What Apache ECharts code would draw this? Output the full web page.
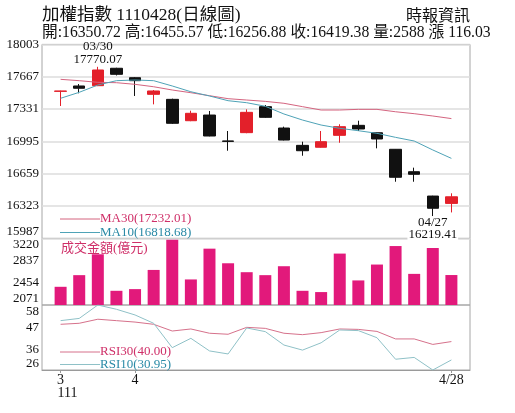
<!DOCTYPE html>
<html><head><meta charset="utf-8">
<script src="https://cdn.jsdelivr.net/npm/echarts@6/dist/echarts.min.js"></script>
<style>html,body{margin:0;padding:0;background:#fff}#c{width:515px;height:413px}</style>
</head><body><div id="c"></div>
<script>
// ---- data ----
const dates = ['3/28','3/29','3/30','3/31','4/1','4/6','4/7','4/8','4/11','4/12','4/13','4/14','4/15','4/18','4/19','4/20','4/21','4/22','4/25','4/26','4/27','4/28'];
const openP  = [17515,17571,17574,17755,17657,17484,17432,17210,17269,17000,17086,17356,17134,16954,16934,17058,17162,17085,16913,16680,16427,16350.72];
const closeP = [17519,17547,17737,17692,17626,17519,17183,17287,17051,16995,17297,17245,17009,16898,16992,17148,17124,17020,16622,16653,16300,16419.38];
const lowP   = [17363,17495,17570,17680,17467,17380,17176,17205,17048,16898,17080,17240,17005,16846,16930,16981,17103,16923,16576,16576,16219.41,16256.88];
const highP  = [17522,17591,17770.07,17760,17664,17529,17439,17314,17311,17103,17328,17373,17148,16992,17103,17173,17210,17088,16915,16722,16430,16455.57];
const volume = [2385,2586,2946,2316,2345,2676,3198,2512,3043,2791,2637,2586,2740,2316,2294,2958,2495,2769,3088,2608,3054,2588];
const ma30   = [17640,17626,17609,17605,17588,17563,17529,17501,17470,17439,17425,17411,17391,17356,17321,17321,17328,17328,17303,17283,17259,17232.01];
const ma10   = [17443,17505,17581,17626,17633,17626,17571,17511,17467,17418,17397,17360,17280,17217,17165,17131,17106,17079,17037,16999,16906,16818.68];
const rsi30  = [48.5,49.0,51.0,50.3,49.6,48.5,45.2,46.2,44.1,43.6,47.0,46.5,44.1,43.4,44.4,46.2,46.0,45.0,41.3,41.3,38.6,40.00];
const rsi10  = [50.3,51.4,58.0,55.9,53.1,49.0,37.0,41.6,35.4,33.9,46.7,44.9,38.3,35.8,39.4,45.7,45.4,41.9,31.3,32.2,26.0,30.95];
const priceTicks = [15987,16323,16659,16995,17331,17667,18003];
const volTicks = [2071,2454,2837,3220];
const rsiTicks = [26,36,47,58];
const xMonthLabels = {'3/28':'3','4/1':'4','4/28':'4/28'};
const yearLabel = '111';
const titleText = '加權指數 1110428(日線圖)';
const sourceText = '時報資訊';
const quoteText = '開:16350.72 高:16455.57 低:16256.88 收:16419.38 量:2588 漲 116.03';
const hiDate = '03/30', hiVal = 17770.07, hiIdx = 2;
const loDate = '04/27', loVal = 16219.41, loIdx = 20;
const volTitle = '成交金額(億元)';

// ---- build ----
const FF = '"Liberation Serif","Noto Sans CJK TC",serif';
const cats = [''].concat(dates, ['']);
const pad = a => ['-'].concat(a, ['-']);
const candle = [['-','-','-','-']].concat(dates.map((d,i)=>[openP[i],closeP[i],lowP[i],highP[i]]), [['-','-','-','-']]);

const chart = echarts.init(document.getElementById('c'), null, {renderer:'canvas'});
const gridBase = {left:42, width:428, show:true, borderColor:'#a6a6a6', borderWidth:1, backgroundColor:'transparent'};
const lblBase = {fontFamily:FF, fontSize:13, color:'#111', margin:3, formatter:(v)=>String(Math.round(v))};
function xAx(i, showLbl){
  return {type:'category', gridIndex:i, data:cats, boundaryGap:false,
    axisLine:{show:showLbl, lineStyle:{color:'#9a9a9a'}},
    axisTick:{show:showLbl, length:3, lineStyle:{color:'#9a9a9a'}},
    splitLine:{show:false},
    axisLabel: showLbl ? {show:true, fontFamily:FF, fontSize:14, color:'#111', margin:3,
      interval:(idx,val)=>xMonthLabels[val]!==undefined,
      formatter:(val)=>xMonthLabels[val]||''} : {show:false}};
}
const option = {
  animation:false,
  backgroundColor:'#fff',
  grid:[Object.assign({top:44.4, height:194}, gridBase),
        Object.assign({top:238.4, height:66.6}, gridBase),
        Object.assign({top:305, height:65}, gridBase)],
  xAxis:[xAx(0,false), xAx(1,false), xAx(2,true)],
  yAxis:[
    {type:'value', gridIndex:0, min:priceTicks[0], max:priceTicks[priceTicks.length-1], interval:priceTicks[1]-priceTicks[0],
     axisLine:{show:false}, axisTick:{show:false},
     splitLine:{show:true, lineStyle:{color:'#dcdcdc', width:1.5}},
     axisLabel:Object.assign({verticalAlignMinLabel:'bottom'}, lblBase)},
    {type:'value', gridIndex:1, min:volTicks[0], max:volTicks[volTicks.length-1], interval:volTicks[1]-volTicks[0],
     axisLine:{show:false}, axisTick:{show:false}, splitLine:{show:false},
     axisLabel:Object.assign({verticalAlignMinLabel:'bottom', verticalAlignMaxLabel:'top'}, lblBase)},
    {type:'value', gridIndex:2, min:rsiTicks[0], max:rsiTicks[rsiTicks.length-1],
     axisLine:{show:false}, axisTick:{show:false}, splitLine:{show:false},
     axisLabel:Object.assign({customValues:rsiTicks, verticalAlignMinLabel:'bottom', verticalAlignMaxLabel:'top'}, lblBase)}
  ],
  series:[
    {type:'candlestick', xAxisIndex:0, yAxisIndex:0, data:candle, barWidth:12,
     itemStyle:{color:'#e3202a', color0:'#111', borderColor:'#e3202a', borderColor0:'#111', borderWidth:1}},
    {type:'line', xAxisIndex:0, yAxisIndex:0, data:pad(ma30), symbol:'none', lineStyle:{color:'#d4647f', width:1}, z:3},
    {type:'line', xAxisIndex:0, yAxisIndex:0, data:pad(ma10), symbol:'none', lineStyle:{color:'#4fa3b7', width:1}, z:3},
    {type:'bar', xAxisIndex:1, yAxisIndex:1, data:pad(volume), barWidth:12, itemStyle:{color:'#e2197b'}},
    {type:'line', xAxisIndex:2, yAxisIndex:2, data:pad(rsi30), symbol:'none', lineStyle:{color:'#d6718b', width:1}},
    {type:'line', xAxisIndex:2, yAxisIndex:2, data:pad(rsi10), symbol:'none', lineStyle:{color:'#8fc1c7', width:1}}
  ]
};
chart.setOption(option);

const ph = chart.convertToPixel({xAxisIndex:0, yAxisIndex:0}, [hiIdx+1, hiVal]);
const pl = chart.convertToPixel({xAxisIndex:0, yAxisIndex:0}, [loIdx+1, loVal]);
const p3 = chart.convertToPixel({xAxisIndex:2, yAxisIndex:2}, [1, rsiTicks[0]]);
function txt(x, y, text, size, fill, align, extra){
  return {type:'text', silent:true, z:100, style:Object.assign({x:x, y:y, text:text, font: size+'px '+FF, fill:fill||'#111', align:align||'left', verticalAlign:'middle'}, extra||{})};
}
function ln(x1, x2, y, color){
  return {type:'line', silent:true, z:90, shape:{x1:x1, y1:y, x2:x2, y2:y}, style:{stroke:color, lineWidth:1}};
}
chart.setOption({graphic:[
  txt(42, 15, titleText, 17.5, '#111'),
  txt(470, 17, sourceText, 16, '#111', 'right'),
  txt(42, 33, quoteText, 15.7, '#111'),
  txt(ph[0], ph[1]-20, hiDate, 13, '#111', 'center'),
  txt(ph[0], ph[1]-7.5, hiVal.toFixed(2), 13, '#111', 'center'),
  txt(pl[0], pl[1]+6.5, loDate, 13, '#111', 'center'),
  txt(pl[0], pl[1]+18.5, loVal.toFixed(2), 13, '#111', 'center', {backgroundColor:'#fff', padding:[0,1]}),
  ln(60, 100, 219, '#d4647f'),
  txt(100, 219, 'MA30(' + ma30[ma30.length-1].toFixed(2) + ')', 13, '#cf2f68'),
  ln(60, 100, 232.5, '#4fa3b7'),
  txt(100, 232.5, 'MA10(' + ma10[ma10.length-1].toFixed(2) + ')', 13, '#2a8aa6'),
  txt(61, 248.5, volTitle, 13, '#cf2f68'),
  ln(60, 100, 352, '#d6718b'),
  txt(100, 352, 'RSI30(' + rsi30[rsi30.length-1].toFixed(2) + ')', 13, '#cf2f68'),
  ln(60, 100, 364.5, '#8fc1c7'),
  txt(100, 364.5, 'RSI10(' + rsi10[rsi10.length-1].toFixed(2) + ')', 13, '#2a8aa6'),
  txt(p3[0]-3, 393, yearLabel, 14)
]});
</script></body></html>
